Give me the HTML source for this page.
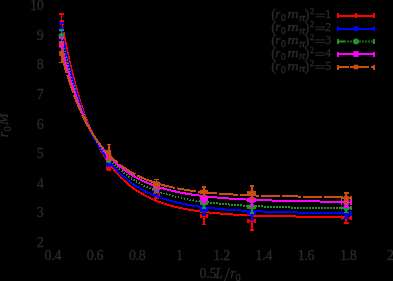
<!DOCTYPE html>
<html><head><meta charset="utf-8"><title>plot</title>
<style>html,body{margin:0;padding:0;background:#000;width:393px;height:281px;overflow:hidden}</style>
</head><body>
<svg width="393" height="281" viewBox="0 0 393 281" style="display:block;position:absolute;left:0;top:0;will-change:transform">
<rect width="393" height="281" fill="#000"/>
<g fill="#2a2a2a" stroke="#2a2a2a" stroke-width="0.3" font-family="Liberation Serif, serif" font-size="14px" letter-spacing="-0.3">
<text x="43.4" y="247.0" text-anchor="end">2</text>
<text x="43.4" y="217.4" text-anchor="end">3</text>
<text x="43.4" y="187.8" text-anchor="end">4</text>
<text x="43.4" y="158.2" text-anchor="end">5</text>
<text x="43.4" y="128.6" text-anchor="end">6</text>
<text x="43.4" y="99.0" text-anchor="end">7</text>
<text x="43.4" y="69.4" text-anchor="end">8</text>
<text x="43.4" y="39.8" text-anchor="end">9</text>
<text x="43.4" y="10.2" text-anchor="end">10</text>
<text x="52.8" y="259.6" text-anchor="middle">0.4</text>
<text x="95.0" y="259.6" text-anchor="middle">0.6</text>
<text x="137.2" y="259.6" text-anchor="middle">0.8</text>
<text x="179.4" y="259.6" text-anchor="middle">1</text>
<text x="221.6" y="259.6" text-anchor="middle">1.2</text>
<text x="263.8" y="259.6" text-anchor="middle">1.4</text>
<text x="306.0" y="259.6" text-anchor="middle">1.6</text>
<text x="348.2" y="259.6" text-anchor="middle">1.8</text>
<text x="390.4" y="259.6" text-anchor="middle">2</text>
<text y="278"><tspan x="199.6">0.5</tspan><tspan x="215.2" font-style="italic">L</tspan><tspan x="230.3" y="278" font-style="italic">r</tspan><tspan x="235.5" font-size="10.5px" y="281.2">0</tspan></text>
<path d="M224.3,281.5L229.6,267.8" stroke-width="1.1" fill="none"/>
<g transform="translate(8.3,0) rotate(-90)"><text y="0"><tspan x="-137.2" font-style="italic">r</tspan><tspan x="-131.6" font-size="10.5px" y="2.4">0</tspan><tspan x="-125" y="0" font-style="italic" textLength="11.6" lengthAdjust="spacingAndGlyphs">M</tspan></text></g>
<text y="18.3"><tspan x="271.2" font-size="14.5px" y="19.1">(</tspan><tspan x="275.3" y="18.3" font-style="italic" font-size="13px">r</tspan><tspan x="281" y="21.3" font-size="9.5px">0</tspan><tspan x="287.3" y="18.3" font-style="italic" font-size="13px" textLength="11.2" lengthAdjust="spacingAndGlyphs">m</tspan><tspan x="299" y="20.9" font-style="italic" font-size="9.5px" textLength="6" lengthAdjust="spacingAndGlyphs">π</tspan><tspan x="304.6" y="19.1" font-size="14.5px">)</tspan><tspan x="309.8" y="14.1" font-size="9px">2</tspan><tspan x="325.3" y="18.3" font-size="11.8px">1</tspan></text>
<path d="M315.4,14.2H325M315.4,16.8H325" stroke-width="1" fill="none"/>
<text y="31.2"><tspan x="271.2" font-size="14.5px" y="32.0">(</tspan><tspan x="275.3" y="31.2" font-style="italic" font-size="13px">r</tspan><tspan x="281" y="34.2" font-size="9.5px">0</tspan><tspan x="287.3" y="31.2" font-style="italic" font-size="13px" textLength="11.2" lengthAdjust="spacingAndGlyphs">m</tspan><tspan x="299" y="33.8" font-style="italic" font-size="9.5px" textLength="6" lengthAdjust="spacingAndGlyphs">π</tspan><tspan x="304.6" y="32.0" font-size="14.5px">)</tspan><tspan x="309.8" y="27.0" font-size="9px">2</tspan><tspan x="325.3" y="31.2" font-size="11.8px">2</tspan></text>
<path d="M315.4,27.1H325M315.4,29.7H325" stroke-width="1" fill="none"/>
<text y="44.0"><tspan x="271.2" font-size="14.5px" y="44.8">(</tspan><tspan x="275.3" y="44.0" font-style="italic" font-size="13px">r</tspan><tspan x="281" y="47.0" font-size="9.5px">0</tspan><tspan x="287.3" y="44.0" font-style="italic" font-size="13px" textLength="11.2" lengthAdjust="spacingAndGlyphs">m</tspan><tspan x="299" y="46.6" font-style="italic" font-size="9.5px" textLength="6" lengthAdjust="spacingAndGlyphs">π</tspan><tspan x="304.6" y="44.8" font-size="14.5px">)</tspan><tspan x="309.8" y="39.8" font-size="9px">2</tspan><tspan x="325.3" y="44.0" font-size="11.8px">3</tspan></text>
<path d="M315.4,39.9H325M315.4,42.5H325" stroke-width="1" fill="none"/>
<text y="56.8"><tspan x="271.2" font-size="14.5px" y="57.6">(</tspan><tspan x="275.3" y="56.8" font-style="italic" font-size="13px">r</tspan><tspan x="281" y="59.8" font-size="9.5px">0</tspan><tspan x="287.3" y="56.8" font-style="italic" font-size="13px" textLength="11.2" lengthAdjust="spacingAndGlyphs">m</tspan><tspan x="299" y="59.4" font-style="italic" font-size="9.5px" textLength="6" lengthAdjust="spacingAndGlyphs">π</tspan><tspan x="304.6" y="57.6" font-size="14.5px">)</tspan><tspan x="309.8" y="52.6" font-size="9px">2</tspan><tspan x="325.3" y="56.8" font-size="11.8px">4</tspan></text>
<path d="M315.4,52.8H325M315.4,55.3H325" stroke-width="1" fill="none"/>
<text y="69.7"><tspan x="271.2" font-size="14.5px" y="70.5">(</tspan><tspan x="275.3" y="69.7" font-style="italic" font-size="13px">r</tspan><tspan x="281" y="72.7" font-size="9.5px">0</tspan><tspan x="287.3" y="69.7" font-style="italic" font-size="13px" textLength="11.2" lengthAdjust="spacingAndGlyphs">m</tspan><tspan x="299" y="72.3" font-style="italic" font-size="9.5px" textLength="6" lengthAdjust="spacingAndGlyphs">π</tspan><tspan x="304.6" y="70.5" font-size="14.5px">)</tspan><tspan x="309.8" y="65.5" font-size="9px">2</tspan><tspan x="325.3" y="69.7" font-size="11.8px">5</tspan></text>
<path d="M315.4,65.6H325M315.4,68.2H325" stroke-width="1" fill="none"/>
</g>
<path d="M61.5,21.4 L63.9,34.3 L66.3,46.3 L68.7,57.4 L71.1,67.8 L73.5,77.4 L75.9,86.3 L78.3,94.7 L80.6,102.4 L83.0,109.7 L85.4,116.4 L87.8,122.7 L90.2,128.6 L92.6,134.1 L95.0,139.2 L97.4,144.0 L99.8,148.5 L102.2,152.7 L104.6,156.6 L107.0,160.3 L109.4,163.7 L111.8,166.9 L114.2,169.9 L116.5,172.7 L118.9,175.4 L121.3,177.9 L123.7,180.2 L126.1,182.4 L128.5,184.4 L130.9,186.4 L133.3,188.2 L135.7,189.9 L138.1,191.4 L140.5,192.9 L142.9,194.3 L145.3,195.7 L147.7,196.9 L150.1,198.1 L152.4,199.2 L154.8,200.2 L157.2,201.2 L159.6,202.1 L162.0,202.9 L164.4,203.7 L166.8,204.5 L169.2,205.2 L171.6,205.9 L174.0,206.5 L176.4,207.1 L178.8,207.7 L181.2,208.2 L183.6,208.7 L186.0,209.2 L188.3,209.6 L190.7,210.1 L193.1,210.4 L195.5,210.8 L197.9,211.2 L200.3,211.5 L202.7,211.8 L205.1,212.1 L207.5,212.4 L209.9,212.6 L212.3,212.9 L214.7,213.1 L217.1,213.3 L219.5,213.5 L221.8,213.7 L224.2,213.9 L226.6,214.1 L229.0,214.3 L231.4,214.4 L233.8,214.6 L236.2,214.7 L238.6,214.8 L241.0,214.9 L243.4,215.1 L245.8,215.2 L248.2,215.3 L250.6,215.4 L253.0,215.5 L255.4,215.6 L257.7,215.6 L260.1,215.7 L262.5,215.8 L264.9,215.9 L267.3,215.9 L269.7,216.0 L272.1,216.0 L274.5,216.1 L276.9,216.1 L279.3,216.2 L281.7,216.2 L284.1,216.3 L286.5,216.3 L288.9,216.4 L291.3,216.4 L293.6,216.4 L296.0,216.5 L298.4,216.5 L300.8,216.5 L303.2,216.6 L305.6,216.6 L308.0,216.6 L310.4,216.6 L312.8,216.7 L315.2,216.7 L317.6,216.7 L320.0,216.7 L322.4,216.7 L324.8,216.8 L327.2,216.8 L329.5,216.8 L331.9,216.8 L334.3,216.8 L336.7,216.8 L339.1,216.8 L341.5,216.9 L343.9,216.9 L346.3,216.9" fill="none" stroke="#ff0000" stroke-width="2" stroke-linejoin="round" shape-rendering="crispEdges"/>
<path d="M61.5,13.7V31.099999999999998M59.3,13.7H63.7M59.3,31.099999999999998H63.7M60.35,22.4H62.65M60.35,20.2V24.599999999999998M62.65,20.2V24.599999999999998" stroke="#ff0000" stroke-width="1.7" fill="none" shape-rendering="crispEdges"/>
<path d="M59.0,22.4H64.0M61.5,19.9V24.9" stroke="#ff0000" stroke-width="2" fill="none"/>
<path d="M108.8,164.4V170.4M106.6,164.4H111.0M106.6,170.4H111.0M107.06,167.4H110.53999999999999M107.06,165.20000000000002V169.6M110.53999999999999,165.20000000000002V169.6" stroke="#ff0000" stroke-width="1.7" fill="none" shape-rendering="crispEdges"/>
<path d="M106.3,167.4H111.3M108.8,164.9V169.9" stroke="#ff0000" stroke-width="2" fill="none"/>
<path d="M156.5,190V198M154.3,190H158.7M154.3,198H158.7M154.17,194H158.83M154.17,191.8V196.2M158.83,191.8V196.2" stroke="#ff0000" stroke-width="1.7" fill="none" shape-rendering="crispEdges"/>
<path d="M154.0,194H159.0M156.5,191.5V196.5" stroke="#ff0000" stroke-width="2" fill="none"/>
<path d="M204,207.5V224.5M201.8,207.5H206.2M201.8,224.5H206.2M201.08,216H206.92M201.08,213.8V218.2M206.92,213.8V218.2" stroke="#ff0000" stroke-width="1.7" fill="none" shape-rendering="crispEdges"/>
<path d="M201.5,216H206.5M204,213.5V218.5" stroke="#ff0000" stroke-width="2" fill="none"/>
<path d="M251.7,211.39999999999998V230.0M249.5,211.39999999999998H253.89999999999998M249.5,230.0H253.89999999999998M248.19,220.7H255.20999999999998M248.19,218.5V222.89999999999998M255.20999999999998,218.5V222.89999999999998" stroke="#ff0000" stroke-width="1.7" fill="none" shape-rendering="crispEdges"/>
<path d="M249.2,220.7H254.2M251.7,218.2V223.2" stroke="#ff0000" stroke-width="2" fill="none"/>
<path d="M346.3,213.3V222.7M344.1,213.3H348.5M344.1,222.7H348.5M341.61,218H350.99M341.61,215.8V220.2M350.99,215.8V220.2" stroke="#ff0000" stroke-width="1.7" fill="none" shape-rendering="crispEdges"/>
<path d="M343.8,218H348.8M346.3,215.5V220.5" stroke="#ff0000" stroke-width="2" fill="none"/>
<path d="M61.5,29.8 L63.9,42.0 L66.3,53.4 L68.7,63.8 L71.1,73.5 L73.5,82.5 L75.9,90.8 L78.3,98.5 L80.6,105.6 L83.0,112.3 L85.4,118.5 L87.8,124.3 L90.2,129.7 L92.6,134.7 L95.0,139.4 L97.4,143.8 L99.8,147.9 L102.2,151.7 L104.6,155.3 L107.0,158.6 L109.4,161.8 L111.8,164.7 L114.2,167.5 L116.5,170.1 L118.9,172.5 L121.3,174.8 L123.7,176.9 L126.1,178.9 L128.5,180.8 L130.9,182.6 L133.3,184.3 L135.7,185.9 L138.1,187.3 L140.5,188.7 L142.9,190.1 L145.3,191.3 L147.7,192.5 L150.1,193.6 L152.4,194.6 L154.8,195.6 L157.2,196.5 L159.6,197.4 L162.0,198.2 L164.4,199.0 L166.8,199.8 L169.2,200.5 L171.6,201.1 L174.0,201.8 L176.4,202.4 L178.8,202.9 L181.2,203.4 L183.6,203.9 L186.0,204.4 L188.3,204.9 L190.7,205.3 L193.1,205.7 L195.5,206.1 L197.9,206.4 L200.3,206.8 L202.7,207.1 L205.1,207.4 L207.5,207.7 L209.9,208.0 L212.3,208.2 L214.7,208.5 L217.1,208.7 L219.5,209.0 L221.8,209.2 L224.2,209.4 L226.6,209.6 L229.0,209.8 L231.4,209.9 L233.8,210.1 L236.2,210.2 L238.6,210.4 L241.0,210.5 L243.4,210.7 L245.8,210.8 L248.2,210.9 L250.6,211.0 L253.0,211.1 L255.4,211.2 L257.7,211.3 L260.1,211.4 L262.5,211.5 L264.9,211.6 L267.3,211.7 L269.7,211.8 L272.1,211.8 L274.5,211.9 L276.9,212.0 L279.3,212.0 L281.7,212.1 L284.1,212.2 L286.5,212.2 L288.9,212.3 L291.3,212.3 L293.6,212.4 L296.0,212.4 L298.4,212.5 L300.8,212.5 L303.2,212.5 L305.6,212.6 L308.0,212.6 L310.4,212.6 L312.8,212.7 L315.2,212.7 L317.6,212.7 L320.0,212.8 L322.4,212.8 L324.8,212.8 L327.2,212.8 L329.5,212.9 L331.9,212.9 L334.3,212.9 L336.7,212.9 L339.1,212.9 L341.5,213.0 L343.9,213.0 L346.3,213.0" fill="none" stroke="#0000ff" stroke-width="2" stroke-linejoin="round" shape-rendering="crispEdges"/>
<path d="M61.5,22.8V36.8M59.3,22.8H63.7M59.3,36.8H63.7M60.35,29.8H62.65M60.35,27.6V32.0M62.65,27.6V32.0" stroke="#0000ff" stroke-width="1.7" fill="none" shape-rendering="crispEdges"/>
<path d="M59.0,29.8H64.0M61.5,27.3V32.3M59.3,27.6L63.7,32.0M59.3,32.0L63.7,27.6" stroke="#0000ff" stroke-width="1.6" fill="none"/>
<path d="M108.8,160.5V166.5M106.6,160.5H111.0M106.6,166.5H111.0M107.06,163.5H110.53999999999999M107.06,161.3V165.7M110.53999999999999,161.3V165.7" stroke="#0000ff" stroke-width="1.7" fill="none" shape-rendering="crispEdges"/>
<path d="M106.3,163.5H111.3M108.8,161.0V166.0M106.6,161.3L111.0,165.7M106.6,165.7L111.0,161.3" stroke="#0000ff" stroke-width="1.6" fill="none"/>
<path d="M156.5,186.5V194.5M154.3,186.5H158.7M154.3,194.5H158.7M154.17,190.5H158.83M154.17,188.3V192.7M158.83,188.3V192.7" stroke="#0000ff" stroke-width="1.7" fill="none" shape-rendering="crispEdges"/>
<path d="M154.0,190.5H159.0M156.5,188.0V193.0M154.3,188.3L158.7,192.7M154.3,192.7L158.7,188.3" stroke="#0000ff" stroke-width="1.6" fill="none"/>
<path d="M204,203.5V215.5M201.8,203.5H206.2M201.8,215.5H206.2M201.08,209.5H206.92M201.08,207.3V211.7M206.92,207.3V211.7" stroke="#0000ff" stroke-width="1.7" fill="none" shape-rendering="crispEdges"/>
<path d="M201.5,209.5H206.5M204,207.0V212.0M201.8,207.3L206.2,211.7M201.8,211.7L206.2,207.3" stroke="#0000ff" stroke-width="1.6" fill="none"/>
<path d="M251.7,205.5V220.5M249.5,205.5H253.89999999999998M249.5,220.5H253.89999999999998M248.19,213H255.20999999999998M248.19,210.8V215.2M255.20999999999998,210.8V215.2" stroke="#0000ff" stroke-width="1.7" fill="none" shape-rendering="crispEdges"/>
<path d="M249.2,213H254.2M251.7,210.5V215.5M249.5,210.8L253.89999999999998,215.2M249.5,215.2L253.89999999999998,210.8" stroke="#0000ff" stroke-width="1.6" fill="none"/>
<path d="M346.3,209.0V218.0M344.1,209.0H348.5M344.1,218.0H348.5M341.61,213.5H350.99M341.61,211.3V215.7M350.99,211.3V215.7" stroke="#0000ff" stroke-width="1.7" fill="none" shape-rendering="crispEdges"/>
<path d="M343.8,213.5H348.8M346.3,211.0V216.0M344.1,211.3L348.5,215.7M344.1,215.7L348.5,211.3" stroke="#0000ff" stroke-width="1.6" fill="none"/>
<path d="M61.5,36.1 L63.9,47.6 L66.3,58.2 L68.7,68.0 L71.1,77.0 L73.5,85.4 L75.9,93.1 L78.3,100.2 L80.6,106.9 L83.0,113.1 L85.4,118.8 L87.8,124.1 L90.2,129.1 L92.6,133.7 L95.0,138.1 L97.4,142.1 L99.8,145.9 L102.2,149.4 L104.6,152.7 L107.0,155.8 L109.4,158.7 L111.8,161.4 L114.2,164.0 L116.5,166.4 L118.9,168.6 L121.3,170.8 L123.7,172.8 L126.1,174.6 L128.5,176.4 L130.9,178.1 L133.3,179.6 L135.7,181.1 L138.1,182.5 L140.5,183.8 L142.9,185.1 L145.3,186.3 L147.7,187.4 L150.1,188.4 L152.4,189.4 L154.8,190.4 L157.2,191.3 L159.6,192.1 L162.0,192.9 L164.4,193.7 L166.8,194.4 L169.2,195.1 L171.6,195.7 L174.0,196.4 L176.4,196.9 L178.8,197.5 L181.2,198.0 L183.6,198.5 L186.0,199.0 L188.3,199.5 L190.7,199.9 L193.1,200.3 L195.5,200.7 L197.9,201.0 L200.3,201.4 L202.7,201.7 L205.1,202.1 L207.5,202.4 L209.9,202.6 L212.3,202.9 L214.7,203.2 L217.1,203.4 L219.5,203.7 L221.8,203.9 L224.2,204.1 L226.6,204.3 L229.0,204.5 L231.4,204.7 L233.8,204.9 L236.2,205.1 L238.6,205.2 L241.0,205.4 L243.4,205.5 L245.8,205.7 L248.2,205.8 L250.6,205.9 L253.0,206.1 L255.4,206.2 L257.7,206.3 L260.1,206.4 L262.5,206.5 L264.9,206.6 L267.3,206.7 L269.7,206.8 L272.1,206.9 L274.5,207.0 L276.9,207.1 L279.3,207.1 L281.7,207.2 L284.1,207.3 L286.5,207.3 L288.9,207.4 L291.3,207.5 L293.6,207.5 L296.0,207.6 L298.4,207.6 L300.8,207.7 L303.2,207.7 L305.6,207.8 L308.0,207.8 L310.4,207.9 L312.8,207.9 L315.2,208.0 L317.6,208.0 L320.0,208.0 L322.4,208.1 L324.8,208.1 L327.2,208.1 L329.5,208.2 L331.9,208.2 L334.3,208.2 L336.7,208.3 L339.1,208.3 L341.5,208.3 L343.9,208.3 L346.3,208.4" fill="none" stroke="#22922c" stroke-width="2" stroke-dasharray="1.4 1.6" stroke-linejoin="round" shape-rendering="crispEdges"/>
<path d="M61.5,30V42M59.3,30H63.7M59.3,42H63.7M60.35,36H62.65M60.35,33.8V38.2M62.65,33.8V38.2" stroke="#22922c" stroke-width="1.7" fill="none" shape-rendering="crispEdges"/>
<circle cx="61.5" cy="36" r="3" fill="#22922c"/>
<path d="M108.8,156.5V162.5M106.6,156.5H111.0M106.6,162.5H111.0M107.06,159.5H110.53999999999999M107.06,157.3V161.7M110.53999999999999,157.3V161.7" stroke="#22922c" stroke-width="1.7" fill="none" shape-rendering="crispEdges"/>
<circle cx="108.8" cy="159.5" r="3" fill="#22922c"/>
<path d="M156.5,184V192M154.3,184H158.7M154.3,192H158.7M154.17,188H158.83M154.17,185.8V190.2M158.83,185.8V190.2" stroke="#22922c" stroke-width="1.7" fill="none" shape-rendering="crispEdges"/>
<circle cx="156.5" cy="188" r="3" fill="#22922c"/>
<path d="M204,198V208M201.8,198H206.2M201.8,208H206.2M201.08,203H206.92M201.08,200.8V205.2M206.92,200.8V205.2" stroke="#22922c" stroke-width="1.7" fill="none" shape-rendering="crispEdges"/>
<circle cx="204" cy="203" r="3" fill="#22922c"/>
<path d="M251.7,200.8V212.8M249.5,200.8H253.89999999999998M249.5,212.8H253.89999999999998M248.19,206.8H255.20999999999998M248.19,204.60000000000002V209.0M255.20999999999998,204.60000000000002V209.0" stroke="#22922c" stroke-width="1.7" fill="none" shape-rendering="crispEdges"/>
<circle cx="251.7" cy="206.8" r="3" fill="#22922c"/>
<path d="M346.3,203.5V212.5M344.1,203.5H348.5M344.1,212.5H348.5M341.61,208H350.99M341.61,205.8V210.2M350.99,205.8V210.2" stroke="#22922c" stroke-width="1.7" fill="none" shape-rendering="crispEdges"/>
<circle cx="346.3" cy="208" r="3" fill="#22922c"/>
<path d="M61.5,44.8 L63.9,55.2 L66.3,64.8 L68.7,73.6 L71.1,81.8 L73.5,89.4 L75.9,96.5 L78.3,103.0 L80.6,109.0 L83.0,114.7 L85.4,119.9 L87.8,124.8 L90.2,129.4 L92.6,133.6 L95.0,137.6 L97.4,141.3 L99.8,144.8 L102.2,148.1 L104.6,151.1 L107.0,154.0 L109.4,156.6 L111.8,159.1 L114.2,161.5 L116.5,163.7 L118.9,165.8 L121.3,167.7 L123.7,169.6 L126.1,171.3 L128.5,172.9 L130.9,174.5 L133.3,175.9 L135.7,177.3 L138.1,178.6 L140.5,179.8 L142.9,180.9 L145.3,182.0 L147.7,183.0 L150.1,184.0 L152.4,184.9 L154.8,185.8 L157.2,186.6 L159.6,187.4 L162.0,188.1 L164.4,188.8 L166.8,189.4 L169.2,190.1 L171.6,190.6 L174.0,191.2 L176.4,191.7 L178.8,192.2 L181.2,192.7 L183.6,193.2 L186.0,193.6 L188.3,194.0 L190.7,194.4 L193.1,194.7 L195.5,195.1 L197.9,195.4 L200.3,195.7 L202.7,196.0 L205.1,196.3 L207.5,196.6 L209.9,196.8 L212.3,197.1 L214.7,197.3 L217.1,197.5 L219.5,197.7 L221.8,197.9 L224.2,198.1 L226.6,198.3 L229.0,198.5 L231.4,198.7 L233.8,198.8 L236.2,199.0 L238.6,199.1 L241.0,199.2 L243.4,199.4 L245.8,199.5 L248.2,199.6 L250.6,199.7 L253.0,199.8 L255.4,199.9 L257.7,200.0 L260.1,200.1 L262.5,200.2 L264.9,200.3 L267.3,200.4 L269.7,200.4 L272.1,200.5 L274.5,200.6 L276.9,200.7 L279.3,200.7 L281.7,200.8 L284.1,200.8 L286.5,200.9 L288.9,200.9 L291.3,201.0 L293.6,201.0 L296.0,201.1 L298.4,201.1 L300.8,201.2 L303.2,201.2 L305.6,201.3 L308.0,201.3 L310.4,201.3 L312.8,201.4 L315.2,201.4 L317.6,201.4 L320.0,201.5 L322.4,201.5 L324.8,201.5 L327.2,201.5 L329.5,201.6 L331.9,201.6 L334.3,201.6 L336.7,201.6 L339.1,201.6 L341.5,201.7 L343.9,201.7 L346.3,201.7" fill="none" stroke="#ff00ff" stroke-width="2" stroke-linejoin="round" shape-rendering="crispEdges"/>
<path d="M61.5,37.8V51.8M59.3,37.8H63.7M59.3,51.8H63.7M60.35,44.8H62.65M60.35,42.599999999999994V47.0M62.65,42.599999999999994V47.0" stroke="#ff00ff" stroke-width="1.7" fill="none" shape-rendering="crispEdges"/>
<rect x="58.9" y="41.9" width="5.2" height="5.8" fill="#ff00ff"/>
<path d="M108.8,153.0V160.0M106.6,153.0H111.0M106.6,160.0H111.0M107.06,156.5H110.53999999999999M107.06,154.3V158.7M110.53999999999999,154.3V158.7" stroke="#ff00ff" stroke-width="1.7" fill="none" shape-rendering="crispEdges"/>
<rect x="106.2" y="153.6" width="5.2" height="5.8" fill="#ff00ff"/>
<path d="M156.5,182.5V190.5M154.3,182.5H158.7M154.3,190.5H158.7M154.17,186.5H158.83M154.17,184.3V188.7M158.83,184.3V188.7" stroke="#ff00ff" stroke-width="1.7" fill="none" shape-rendering="crispEdges"/>
<rect x="153.9" y="183.6" width="5.2" height="5.8" fill="#ff00ff"/>
<path d="M204,193.5V203.5M201.8,193.5H206.2M201.8,203.5H206.2M201.08,198.5H206.92M201.08,196.3V200.7M206.92,196.3V200.7" stroke="#ff00ff" stroke-width="1.7" fill="none" shape-rendering="crispEdges"/>
<rect x="201.4" y="195.6" width="5.2" height="5.8" fill="#ff00ff"/>
<path d="M251.7,193.5V206.5M249.5,193.5H253.89999999999998M249.5,206.5H253.89999999999998M248.19,200H255.20999999999998M248.19,197.8V202.2M255.20999999999998,197.8V202.2" stroke="#ff00ff" stroke-width="1.7" fill="none" shape-rendering="crispEdges"/>
<rect x="249.1" y="197.1" width="5.2" height="5.8" fill="#ff00ff"/>
<path d="M346.3,198.0V207.0M344.1,198.0H348.5M344.1,207.0H348.5M341.61,202.5H350.99M341.61,200.3V204.7M350.99,200.3V204.7" stroke="#ff00ff" stroke-width="1.7" fill="none" shape-rendering="crispEdges"/>
<rect x="343.7" y="199.6" width="5.2" height="5.8" fill="#ff00ff"/>
<path d="M61.5,54.8 L63.9,63.8 L66.3,72.1 L68.7,79.9 L71.1,87.1 L73.5,93.8 L75.9,100.1 L78.3,105.9 L80.6,111.4 L83.0,116.5 L85.4,121.3 L87.8,125.8 L90.2,129.9 L92.6,133.8 L95.0,137.5 L97.4,141.0 L99.8,144.2 L102.2,147.2 L104.6,150.0 L107.0,152.7 L109.4,155.2 L111.8,157.6 L114.2,159.8 L116.5,161.8 L118.9,163.8 L121.3,165.6 L123.7,167.4 L126.1,169.0 L128.5,170.5 L130.9,172.0 L133.3,173.4 L135.7,174.6 L138.1,175.9 L140.5,177.0 L142.9,178.1 L145.3,179.1 L147.7,180.1 L150.1,181.0 L152.4,181.8 L154.8,182.6 L157.2,183.4 L159.6,184.1 L162.0,184.8 L164.4,185.5 L166.8,186.1 L169.2,186.6 L171.6,187.2 L174.0,187.7 L176.4,188.2 L178.8,188.7 L181.2,189.1 L183.6,189.5 L186.0,189.9 L188.3,190.3 L190.7,190.6 L193.1,191.0 L195.5,191.3 L197.9,191.6 L200.3,191.9 L202.7,192.1 L205.1,192.4 L207.5,192.6 L209.9,192.8 L212.3,193.1 L214.7,193.3 L217.1,193.5 L219.5,193.6 L221.8,193.8 L224.2,194.0 L226.6,194.1 L229.0,194.3 L231.4,194.4 L233.8,194.6 L236.2,194.7 L238.6,194.8 L241.0,194.9 L243.4,195.0 L245.8,195.1 L248.2,195.2 L250.6,195.3 L253.0,195.4 L255.4,195.5 L257.7,195.6 L260.1,195.7 L262.5,195.7 L264.9,195.8 L267.3,195.9 L269.7,195.9 L272.1,196.0 L274.5,196.1 L276.9,196.1 L279.3,196.2 L281.7,196.2 L284.1,196.2 L286.5,196.3 L288.9,196.3 L291.3,196.4 L293.6,196.4 L296.0,196.4 L298.4,196.5 L300.8,196.5 L303.2,196.5 L305.6,196.6 L308.0,196.6 L310.4,196.6 L312.8,196.6 L315.2,196.7 L317.6,196.7 L320.0,196.7 L322.4,196.7 L324.8,196.8 L327.2,196.8 L329.5,196.8 L331.9,196.8 L334.3,196.8 L336.7,196.8 L339.1,196.9 L341.5,196.9 L343.9,196.9 L346.3,196.9" fill="none" stroke="#c8500f" stroke-width="2" stroke-dasharray="19 2" stroke-linejoin="round" shape-rendering="crispEdges"/>
<path d="M61.5,44.2V62.599999999999994M59.3,44.2H63.7M59.3,62.599999999999994H63.7M60.35,53.4H62.65M60.35,51.199999999999996V55.6M62.65,51.199999999999996V55.6" stroke="#c8500f" stroke-width="1.7" fill="none" shape-rendering="crispEdges"/>
<rect x="59.2" y="51.1" width="4.6" height="4.6" fill="#c8500f"/>
<path d="M108.8,144.39999999999998V160.0M106.6,144.39999999999998H111.0M106.6,160.0H111.0M107.06,152.2H110.53999999999999M107.06,150.0V154.39999999999998M110.53999999999999,150.0V154.39999999999998" stroke="#c8500f" stroke-width="1.7" fill="none" shape-rendering="crispEdges"/>
<rect x="106.5" y="149.89999999999998" width="4.6" height="4.6" fill="#c8500f"/>
<path d="M156.5,179.39999999999998V188.0M154.3,179.39999999999998H158.7M154.3,188.0H158.7M154.17,183.7H158.83M154.17,181.5V185.89999999999998M158.83,181.5V185.89999999999998" stroke="#c8500f" stroke-width="1.7" fill="none" shape-rendering="crispEdges"/>
<rect x="154.2" y="181.39999999999998" width="4.6" height="4.6" fill="#c8500f"/>
<path d="M204,187.10000000000002V196.5M201.8,187.10000000000002H206.2M201.8,196.5H206.2M201.08,191.8H206.92M201.08,189.60000000000002V194.0M206.92,189.60000000000002V194.0" stroke="#c8500f" stroke-width="1.7" fill="none" shape-rendering="crispEdges"/>
<rect x="201.7" y="189.5" width="4.6" height="4.6" fill="#c8500f"/>
<path d="M251.7,186V200M249.5,186H253.89999999999998M249.5,200H253.89999999999998M248.19,193H255.20999999999998M248.19,190.8V195.2M255.20999999999998,190.8V195.2" stroke="#c8500f" stroke-width="1.7" fill="none" shape-rendering="crispEdges"/>
<rect x="249.39999999999998" y="190.7" width="4.6" height="4.6" fill="#c8500f"/>
<path d="M346.3,192.8V203.2M344.1,192.8H348.5M344.1,203.2H348.5M341.61,198H350.99M341.61,195.8V200.2M350.99,195.8V200.2" stroke="#c8500f" stroke-width="1.7" fill="none" shape-rendering="crispEdges"/>
<rect x="344.0" y="195.7" width="4.6" height="4.6" fill="#c8500f"/>
<path d="M338,15.5H374" stroke="#ff0000" stroke-width="2" fill="none" shape-rendering="crispEdges"/>
<path d="M338,13.0V18.0M374,13.0V18.0" stroke="#ff0000" stroke-width="1.7" fill="none" shape-rendering="crispEdges"/>
<path d="M353.5,15.5H358.5M356,13.0V18.0" stroke="#ff0000" stroke-width="2" fill="none"/>
<path d="M338,28.5H374" stroke="#0000ff" stroke-width="2" fill="none" shape-rendering="crispEdges"/>
<path d="M338,26.0V31.0M374,26.0V31.0" stroke="#0000ff" stroke-width="1.7" fill="none" shape-rendering="crispEdges"/>
<path d="M353.5,28.5H358.5M356,26.0V31.0M353.8,26.3L358.2,30.7M353.8,30.7L358.2,26.3" stroke="#0000ff" stroke-width="1.6" fill="none"/>
<path d="M338,41.5H345.6" stroke="#22922c" stroke-width="2" fill="none"/>
<path d="M347.3,41.5H374" stroke="#22922c" stroke-width="2" stroke-dasharray="1.4 1.6" fill="none"/>
<path d="M338,39.0V44.0M374,39.0V44.0" stroke="#22922c" stroke-width="1.7" fill="none" shape-rendering="crispEdges"/>
<circle cx="356" cy="41.5" r="3" fill="#22922c"/>
<path d="M338,54H374" stroke="#ff00ff" stroke-width="2" fill="none" shape-rendering="crispEdges"/>
<path d="M338,51.5V56.5M374,51.5V56.5" stroke="#ff00ff" stroke-width="1.7" fill="none" shape-rendering="crispEdges"/>
<rect x="353.4" y="51.1" width="5.2" height="5.8" fill="#ff00ff"/>
<path d="M338,67H374" stroke="#c8500f" stroke-width="2" stroke-dasharray="10.5 1.8 19 1.8 10" fill="none" shape-rendering="crispEdges"/>
<path d="M338,64.5V69.5M374,64.5V69.5" stroke="#c8500f" stroke-width="1.7" fill="none" shape-rendering="crispEdges"/>
<rect x="353.7" y="64.7" width="4.6" height="4.6" fill="#c8500f"/>
</svg>
</body></html>
